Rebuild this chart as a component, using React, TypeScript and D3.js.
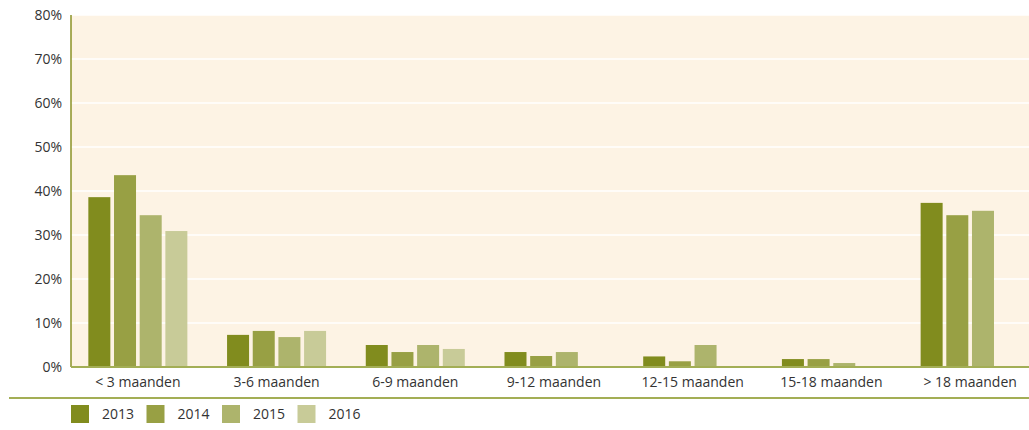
import React from 'react';
import * as d3 from 'd3';

const categories = ['< 3 maanden', '3-6 maanden', '6-9 maanden', '9-12 maanden', '12-15 maanden', '15-18 maanden', '> 18 maanden'];
const years = ['2013', '2014', '2015', '2016'];
const values2013 = [38.6, 7.3, 5.0, 3.4, 2.4, 1.8, 37.3];
const values2014 = [43.6, 8.2, 3.4, 2.5, 1.3, 1.8, 34.5];
const values2015 = [34.5, 6.8, 5.0, 3.4, 5.0, 0.9, 35.5];
const values2016 = [30.9, 8.2, 4.1, 0, 0, 0, 0];
const yTicks = [0, 10, 20, 30, 40, 50, 60, 70, 80];
const colors = ['#818c1e', '#98a044', '#adb46c', '#c8cb98'];

const W = 1029;
const H = 430;
const left = 71;
const top = 15;
const bottom = 367;

const App: React.FC = () => {
  const series = [values2013, values2014, values2015, values2016];

  const y = d3.scaleLinear().domain([0, 80]).range([bottom, top]);
  const x0 = d3.scaleBand<string>().domain(categories).range([68.5, 1039.5]).paddingInner(0).paddingOuter(0);
  const x1 = d3.scaleBand<string>().domain(years).range([0, x0.bandwidth()]).paddingInner(0.143).paddingOuter(0.773);

  const font = '"Open Sans", "DejaVu Sans", sans-serif';

  return (
    <svg width={W} height={H} style={{ position: 'absolute', left: 0, top: 0, fontFamily: font }}>
      <rect x={left} y={top} width={W - left} height={bottom - top} fill="#fdf3e4" />
      {yTicks.slice(1).map(t => (
        <line key={t} x1={left} x2={W} y1={y(t)} y2={y(t)} stroke="#ffffff" strokeWidth={1.5} />
      ))}
      {yTicks.map(t => (
        <text key={t} x={62} y={y(t)} dy="0.35em" textAnchor="end" fontSize={14} fill="#333">{t}%</text>
      ))}
      {categories.map((c, i) => (
        <g key={c} transform={`translate(${x0(c)},0)`}>
          {years.map((yr, j) => {
            const v = series[j][i];
            if (!v) return null;
            return (
              <rect key={yr} x={x1(yr)} y={y(v)} width={x1.bandwidth()} height={bottom - y(v)} fill={colors[j]} />
            );
          })}
          <text x={x0.bandwidth() / 2} y={387} textAnchor="middle" fontSize={14} fill="#333">{c}</text>
        </g>
      ))}
      <line x1={left} x2={left} y1={top} y2={bottom} stroke="#8a9226" strokeWidth={1.5} />
      <line x1={left} x2={W} y1={bottom} y2={bottom} stroke="#a3ae55" strokeWidth={2} />
      <line x1={9} x2={W} y1={398} y2={398} stroke="#a3ae55" strokeWidth={2} />
      {years.map((yr, j) => (
        <g key={yr} transform={`translate(${71 + j * 75.5},405)`}>
          <rect x={0} y={0} width={18} height={18} fill={colors[j]} />
          <text x={31} y={9} dy="0.35em" fontSize={14} fill="#333">{yr}</text>
        </g>
      ))}
    </svg>
  );
};

export default App;
